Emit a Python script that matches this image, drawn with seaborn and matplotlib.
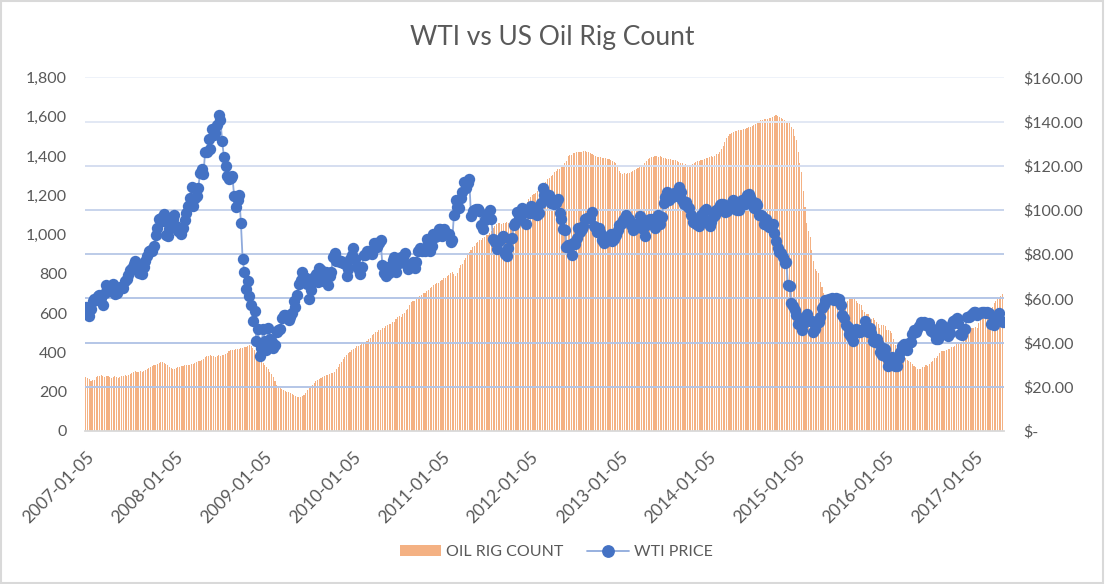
import numpy as np
import pandas as pd
import seaborn as sns
import matplotlib.pyplot as plt
from matplotlib.lines import Line2D
from matplotlib.patches import Patch, Rectangle
from matplotlib.transforms import ScaledTranslation

# weekly US oil rig count (Fridays, from 2007-01-05)
rig_2007 = [277, 270, 265, 252, 258, 262, 275, 282, 279, 283, 280, 277, 281, 278, 275, 272, 277, 280, 276, 270,
            274, 279, 282, 285, 281, 286, 290, 295, 300, 304, 302, 298, 303, 300, 306, 310, 318, 322, 326, 330,
            334, 338, 340, 344, 350, 352, 348, 343, 335, 328, 320, 318]
rig_2008 = [318, 322, 326, 327, 330, 332, 334, 335, 337, 338, 340, 343, 347, 352, 355, 357, 362, 368, 375, 382,
            384, 386, 383, 380, 378, 382, 385, 383, 386, 388, 392, 398, 405, 412, 413, 414, 415, 416, 418, 420,
            422, 426, 430, 434, 438, 433, 422, 412, 403, 395, 386, 376]
rig_2009 = [344, 335, 325, 313, 302, 290, 276, 255, 234, 225, 217, 212, 208, 204, 200, 196, 192, 188, 183, 178,
            171, 173, 175, 179, 183, 195, 208, 217, 226, 236, 246, 253, 260, 265, 270, 275, 280, 283, 285, 289,
            293, 297, 300, 314, 327, 340, 352, 365, 378, 386, 395, 403]
rig_2010 = [410, 418, 421, 431, 433, 440, 442, 447, 449, 457, 466, 474, 489, 495, 503, 505, 512, 514, 522, 525,
            535, 538, 545, 547, 553, 556, 568, 580, 584, 581, 594, 601, 616, 623, 643, 657, 664, 663, 674, 678,
            688, 691, 701, 703, 714, 717, 727, 732, 743, 748, 754, 755, 762]
rig_2011 = [769, 777, 780, 790, 794, 805, 811, 797, 788, 806, 829, 843, 852, 869, 878, 897, 913, 922, 936, 943,
            957, 960, 970, 973, 983, 985, 996, 999, 1008, 1016, 1033, 1041, 1053, 1058, 1060, 1055, 1059, 1057,
            1062, 1058, 1066, 1065, 1072, 1075, 1081, 1092, 1098, 1112, 1128, 1152, 1163, 1182]
rig_2012 = [1191, 1199, 1206, 1210, 1222, 1228, 1240, 1246, 1259, 1266, 1280, 1287, 1299, 1305, 1316, 1322,
            1331, 1335, 1343, 1347, 1362, 1375, 1398, 1405, 1407, 1413, 1415, 1419, 1418, 1421, 1420, 1424,
            1425, 1421, 1419, 1413, 1410, 1403, 1400, 1396, 1396, 1392, 1390, 1388, 1387, 1383, 1382, 1377,
            1375, 1369, 1366, 1344]
rig_2013 = [1323, 1313, 1306, 1311, 1308, 1315, 1313, 1320, 1321, 1328, 1331, 1339, 1343, 1352, 1356, 1366,
            1373, 1383, 1390, 1394, 1393, 1398, 1399, 1396, 1397, 1392, 1391, 1390, 1385, 1386, 1382, 1381,
            1377, 1377, 1373, 1371, 1364, 1362, 1356, 1357, 1354, 1356, 1353, 1361, 1365, 1369, 1375, 1374,
            1379, 1381, 1383, 1388]
rig_2014 = [1390, 1395, 1399, 1392, 1401, 1408, 1412, 1420, 1436, 1450, 1470, 1489, 1500, 1510, 1518, 1523,
            1526, 1528, 1530, 1531, 1534, 1536, 1538, 1540, 1545, 1549, 1553, 1557, 1563, 1570, 1576, 1582,
            1584, 1586, 1589, 1590, 1592, 1595, 1599, 1602, 1609, 1604, 1600, 1595, 1590, 1583, 1574, 1575,
            1565, 1546, 1536, 1499]
rig_2015 = [1482, 1421, 1366, 1317, 1223, 1140, 1056, 1019, 986, 922, 866, 825, 813, 802, 760, 734, 703, 679,
            668, 660, 659, 646, 642, 635, 631, 628, 640, 645, 638, 659, 664, 670, 672, 674, 675, 662, 652, 644,
            640, 614, 605, 595, 594, 578, 572, 574, 564, 555, 545, 524, 541, 538]
rig_2016 = [536, 516, 515, 510, 498, 467, 439, 413, 400, 392, 386, 387, 372, 362, 354, 351, 343, 332, 328, 318,
            318, 316, 325, 328, 337, 330, 341, 351, 357, 371, 374, 381, 396, 406, 406, 407, 414, 416, 418, 425,
            428, 432, 443, 441, 450, 452, 471, 474, 477, 498, 510, 523, 525]
rig_2017 = [529, 522, 551, 566, 583, 591, 597, 602, 609, 617, 631, 652, 662, 672, 683, 688, 697]

# weekly WTI price, USD per barrel
wti_2007 = [56.3, 53.0, 52.0, 55.4, 59.0, 59.9, 59.4, 61.1, 61.6, 60.0, 57.1, 62.3, 65.9, 64.3, 63.6, 63.4,
            66.5, 61.9, 62.4, 64.9, 65.2, 65.1, 64.7, 68.0, 68.9, 70.7, 72.8, 73.9, 75.6, 77.0, 75.5, 71.5,
            71.9, 71.1, 74.0, 76.7, 79.1, 81.6, 81.7, 81.2, 83.7, 88.6, 91.9, 95.9, 96.3, 95.1, 98.2, 88.7,
            88.3, 91.3, 93.3, 96.0]
wti_2008 = [97.9, 92.7, 90.6, 90.7, 89.0, 91.8, 95.5, 98.8, 101.8, 105.2, 110.2, 101.8, 105.6, 106.2, 110.1,
            116.7, 118.5, 116.3, 126.2, 126.3, 132.2, 127.4, 136.5, 133.9, 134.6, 138.2, 143.0, 140.5, 131.0,
            124.0, 120.1, 115.2, 113.8, 114.6, 115.5, 106.2, 101.2, 104.6, 106.9, 93.9, 77.7, 71.9, 64.2,
            67.8, 61.0, 57.0, 49.9, 54.4, 40.8, 46.3, 33.9, 37.7]
wti_2009 = [46.3, 40.8, 36.5, 46.5, 41.7, 40.2, 37.5, 38.9, 44.8, 45.5, 46.3, 51.1, 52.4, 52.5, 52.2, 50.3,
            51.6, 53.2, 58.6, 56.3, 61.7, 66.3, 68.4, 72.0, 69.6, 69.2, 66.7, 59.9, 63.6, 68.1, 69.5, 70.9,
            67.5, 73.9, 72.7, 68.0, 69.3, 72.0, 66.0, 69.9, 71.8, 78.5, 80.5, 77.0, 77.4, 76.4, 76.7, 76.1,
            75.5, 69.9, 73.4, 78.0]
wti_2010 = [79.4, 82.8, 78.0, 74.5, 72.9, 71.2, 74.1, 79.8, 79.7, 81.5, 81.2, 80.7, 80.0, 84.9, 84.9, 83.2,
            85.1, 86.2, 75.1, 71.6, 70.0, 74.0, 71.5, 73.8, 77.2, 78.9, 72.1, 76.1, 76.0, 78.9, 78.9, 80.7,
            75.4, 73.5, 75.2, 74.6, 76.5, 73.7, 76.5, 81.6, 82.7, 81.2, 81.7, 81.4, 86.9, 84.9, 81.5, 83.8,
            89.2, 87.8, 88.0, 91.5, 91.4]
wti_2011 = [88.0, 91.5, 89.1, 89.3, 89.0, 85.6, 86.2, 97.9, 104.4, 101.2, 101.1, 105.4, 107.9, 112.8, 109.7,
            112.3, 113.9, 97.2, 99.7, 100.1, 100.6, 100.2, 99.3, 93.0, 91.2, 95.4, 96.2, 97.2, 99.9, 95.7,
            86.9, 85.4, 82.3, 85.4, 86.5, 87.2, 88.0, 79.9, 79.2, 83.0, 86.8, 87.4, 93.3, 94.3, 99.0, 97.4,
            96.8, 101.0, 99.4, 93.5, 99.7, 98.8]
wti_2012 = [101.6, 98.7, 98.5, 99.6, 97.8, 98.7, 103.2, 109.8, 106.7, 107.4, 105.1, 106.9, 103.0, 103.3, 102.8,
            103.1, 104.9, 98.5, 96.1, 91.5, 90.9, 83.2, 84.1, 84.0, 79.8, 85.0, 84.5, 87.1, 91.8, 90.1, 91.4,
            92.9, 96.0, 96.2, 96.5, 96.4, 99.0, 92.9, 92.2, 89.9, 91.9, 90.1, 86.3, 84.9, 86.1, 86.9, 88.3,
            88.9, 85.9, 86.7, 88.7, 90.8]
wti_2013 = [93.1, 93.6, 95.6, 95.9, 97.8, 95.7, 95.9, 93.1, 90.7, 92.0, 93.5, 93.7, 97.2, 92.7, 91.3, 88.0,
            93.0, 95.6, 96.0, 96.0, 93.8, 92.0, 96.0, 97.9, 93.7, 96.6, 103.2, 106.0, 108.1, 104.7, 106.9,
            106.0, 107.5, 106.4, 107.7, 110.5, 108.2, 104.7, 102.9, 103.8, 102.0, 100.8, 97.9, 94.6, 94.6,
            93.8, 94.8, 92.7, 97.7, 96.6, 99.3, 100.3]
wti_2014 = [94.0, 92.7, 94.4, 96.6, 97.5, 99.9, 100.3, 102.2, 102.6, 102.6, 98.9, 99.5, 101.7, 101.1, 103.7,
            104.3, 100.6, 99.8, 100.0, 102.0, 104.4, 102.7, 102.7, 106.9, 107.3, 105.7, 104.1, 100.8, 103.1,
            102.1, 97.9, 97.7, 97.4, 93.7, 96.0, 93.3, 92.3, 92.4, 93.5, 89.7, 85.8, 82.8, 81.0, 80.5, 78.7,
            75.8, 76.5, 66.2, 65.8, 57.8, 56.5, 54.7]
wti_2015 = [52.7, 48.4, 48.7, 45.6, 48.2, 51.7, 52.8, 50.3, 49.8, 49.6, 44.8, 46.0, 48.9, 49.1, 51.6, 55.7,
            57.2, 59.2, 59.4, 59.7, 59.7, 60.3, 59.1, 60.0, 59.6, 59.6, 56.9, 52.7, 50.9, 48.1, 47.1, 43.9,
            42.5, 40.5, 45.2, 46.1, 44.6, 44.7, 45.7, 45.5, 49.6, 47.3, 44.6, 46.6, 44.3, 40.7, 40.4, 41.7,
            40.0, 35.6, 34.6, 37.6]
wti_2016 = [37.0, 33.2, 29.4, 32.2, 33.7, 30.9, 29.4, 29.6, 32.8, 35.9, 38.5, 39.4, 39.5, 36.8, 39.7, 40.4,
            43.7, 45.9, 44.7, 46.2, 47.7, 49.3, 48.6, 49.1, 48.0, 47.6, 49.0, 45.4, 46.0, 44.2, 41.6, 41.8,
            44.5, 48.5, 47.6, 44.4, 45.9, 43.0, 44.5, 48.2, 49.8, 50.4, 50.9, 48.7, 44.1, 43.4, 45.7, 46.1,
            51.7, 51.5, 51.9, 53.0, 53.7]
wti_2017 = [54.0, 52.4, 53.2, 53.2, 53.8, 53.9, 53.4, 54.0, 53.3, 48.5, 48.8, 48.0, 50.6, 52.2, 53.2, 49.6,
            49.3]

tick_labels = ["2007-01-05", "2008-01-05", "2009-01-05", "2010-01-05", "2011-01-05", "2012-01-05",
               "2013-01-05", "2014-01-05", "2015-01-05", "2016-01-05", "2017-01-05"]
rig_ticks = [0, 200, 400, 600, 800, 1000, 1200, 1400, 1600, 1800]
price_ticks = [0, 20, 40, 60, 80, 100, 120, 140, 160]
price_labels = ["$-", "$20.00", "$40.00", "$60.00", "$80.00", "$100.00", "$120.00", "$140.00", "$160.00"]

rig = (rig_2007 + rig_2008 + rig_2009 + rig_2010 + rig_2011 + rig_2012 + rig_2013 + rig_2014
       + rig_2015 + rig_2016 + rig_2017)
wti = (wti_2007 + wti_2008 + wti_2009 + wti_2010 + wti_2011 + wti_2012 + wti_2013 + wti_2014
       + wti_2015 + wti_2016 + wti_2017)
assert len(rig) == len(wti)

start = pd.Timestamp("2007-01-05")
df = pd.DataFrame({"date": pd.date_range(start, periods=len(rig), freq="7D"), "rig": rig, "wti": wti})
df["week"] = (df["date"] - start).dt.days / 7
tick_pos = [(pd.Timestamp(t) - start).days / 7 for t in tick_labels]

sns.set_theme(style="white")
plt.rcParams["font.family"] = ["Lato", "DejaVu Sans"]
txt = "#595959"
orange = "#F4B183"
blue = "#4472C4"
lightblue = "#8FAADC"

W, H = 1105, 584
fig = plt.figure(figsize=(W / 100, H / 100), dpi=100)
ax = fig.add_axes([85 / W, 1 - 431 / H, 918.5 / W, (431 - 77.3) / H])

sns.barplot(data=df, x="week", y="rig", native_scale=True, color=orange, saturation=1,
            width=0.64, linewidth=0, errorbar=None, ax=ax)

ax2 = ax.twinx()
grid_colors = ["#D9D9D9", "#B4C6E7", "#B4C6E7", "#B4C6E7", "#BCCBE8", "#C8D4EC", "#D5DEF0", "#E2E8F4", "#EEF2F9"]
for v, c in zip(price_ticks[1:], grid_colors[1:]):
    ax2.axhline(v, color=c, lw=1.4, zorder=1)

sns.lineplot(data=df, x="week", y="wti", ax=ax2, color=lightblue, linewidth=1.3, marker="o",
             markersize=8.2, markerfacecolor=blue, markeredgecolor=blue, markeredgewidth=0,
             errorbar=None, zorder=3)

ax.set_xlim(-0.5, len(df) - 0.5)
ax.set_ylim(0, 1800)
ax2.set_ylim(0, 160)

ax.set_yticks(rig_ticks)
ax.set_yticklabels([f"{v:,}" for v in rig_ticks])
ax2.set_yticks(price_ticks)
ax2.set_yticklabels(price_labels)
ax.set_xticks(tick_pos)
ax.set_xticklabels(tick_labels, rotation=45, ha="right", va="top", rotation_mode="anchor")
for lab in ax.get_xticklabels():
    lab.set_transform(lab.get_transform() + ScaledTranslation(3 / 100, 0, fig.dpi_scale_trans))

ax.tick_params(axis="y", length=0, pad=13, labelsize=11.5, labelcolor=txt)
ax.tick_params(axis="x", length=0, pad=13, labelsize=12.5, labelcolor=txt)
ax2.tick_params(axis="y", length=0, pad=14.5, labelsize=11.5, labelcolor=txt)
for a in (ax, ax2):
    a.set_xlabel("")
    a.set_ylabel("")
    for s in a.spines.values():
        s.set_visible(False)
ax.spines["bottom"].set_visible(True)
ax.spines["bottom"].set_color("#D9D9D9")
ax.spines["bottom"].set_linewidth(1.3)
ax2.patch.set_visible(False)

fig.text(0.5, 1 - 37 / H, "WTI vs US Oil Rig Count", ha="center", va="center", fontsize=19, color=txt)

handles = [Patch(facecolor=orange, edgecolor="none"),
           Line2D([0], [0], color=lightblue, lw=1.3, marker="o", markersize=8.2,
                  markerfacecolor=blue, markeredgecolor=blue)]
fig.legend(handles, ["OIL RIG COUNT", "WTI PRICE"], loc="center", bbox_to_anchor=(556 / W, 1 - 552 / H),
           ncol=2, frameon=False, fontsize=11.5, labelcolor=txt, handlelength=2.6, handletextpad=0.3,
           columnspacing=1.5)

fig.patches.append(Rectangle((0.001, 0.002), 0.997, 0.996, transform=fig.transFigure, fill=False,
                             edgecolor="#D9D9D9", lw=1.5))

fig.savefig("out.png", dpi=100)
